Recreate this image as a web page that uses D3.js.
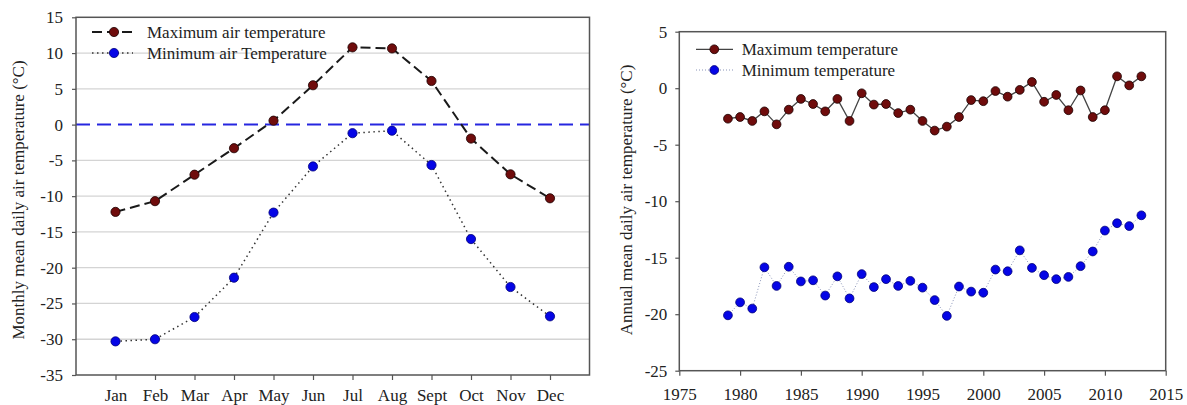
<!DOCTYPE html>
<html>
<head>
<meta charset="utf-8">
<script src="https://cdn.jsdelivr.net/npm/d3@7"></script>
<style>
  html, body { margin: 0; padding: 0; background: #fff; }
  svg { display: block; font-family: "Liberation Serif", "DejaVu Serif", serif; }
</style>
</head>
<body>
<svg id="chart" width="1187" height="405"></svg>
<script>
// monthly means (left panel)
const months = ["Jan", "Feb", "Mar", "Apr", "May", "Jun", "Jul", "Aug", "Sept", "Oct", "Nov", "Dec"]
const monthMax = [-12.2, -10.7, -7.0, -3.3, 0.55, 5.5, 10.8, 10.65, 6.1, -1.95, -6.95, -10.3]
const monthMin = [-30.3, -30.0, -26.9, -21.4, -12.3, -5.85, -1.2, -0.85, -5.65, -16.0, -22.7, -26.8]
const monthTicks = [15, 10, 5, 0, -5, -10, -15, -20, -25, -30, -35]

// annual means (right panel)
const years = d3.range(1979, 2014)
const yearMax = [-2.7, -2.55, -2.9, -2.05, -3.2, -1.9, -0.95, -1.4, -2.05, -0.95, -2.9, -0.45, -1.45, -1.4, -2.2, -1.9,
  -2.9, -3.75, -3.4, -2.55, -1.05, -1.15, -0.25, -0.75, -0.15, 0.55, -1.2, -0.6, -1.95, -0.2, -2.55, -1.95, 1.05, 0.25, 1.05]
const yearMin = [-20.1, -18.95, -19.5, -15.85, -17.5, -15.8, -17.1, -17.0, -18.35, -16.65, -18.6, -16.45, -17.6, -16.9,
  -17.5, -17.05, -17.65, -18.75, -20.15, -17.55, -18.0, -18.1, -16.05, -16.2, -14.35, -15.9, -16.55, -16.9, -16.7,
  -15.75, -14.45, -12.6, -11.95, -12.2, -11.25]
const yearTicks = [1975, 1980, 1985, 1990, 1995, 2000, 2005, 2010, 2015]
const annualTicks = [5, 0, -5, -10, -15, -20, -25]

const maxFill = "#6f0c0c", minFill = "#0505e6"
const frameColor = "#555"
const fontSize = 17

const svg = d3.select("#chart")

function frame(g, x0, x1, y0, y1) {
    g.append("rect")
        .attr("x", x0).attr("y", y0)
        .attr("width", x1 - x0).attr("height", y1 - y0)
        .attr("fill", "none")
        .attr("stroke", frameColor)
        .attr("stroke-width", 1.5)
}

function styleAxis(g) {
    g.select(".domain").remove()
    g.selectAll(".tick line").attr("stroke", frameColor).attr("stroke-width", 1.2)
    g.selectAll(".tick text")
        .attr("fill", "#222")
        .style("font-size", fontSize + "px")
        .style("font-family", "Liberation Serif, serif")
}

function markers(g, data, x, y, fill, r) {
    g.selectAll(null)
        .data(data)
        .enter()
        .append("circle")
        .attr("cx", d => x(d[0]))
        .attr("cy", d => y(d[1]))
        .attr("r", r)
        .attr("fill", fill)
        .attr("stroke", fill == maxFill ? "#1a0000" : "#00007a")
        .attr("stroke-width", 0.8)
}

// ---------- left panel ----------
{
    const g = svg.append("g")
    const x = d3.scaleLinear().domain([0, 13]).range([76, 589.5])
    const y = d3.scaleLinear().domain([-35, 15]).range([375, 17.3])

    // grid
    g.selectAll(".grid")
        .data(monthTicks.filter(d => d != 15 && d != -35 && d != 0))
        .enter()
        .append("line")
        .attr("x1", x(0)).attr("x2", x(13))
        .attr("y1", d => y(d)).attr("y2", d => y(d))
        .attr("stroke", "#d4d4d4")
        .attr("stroke-width", 1.3)

    // zero line
    g.append("line")
        .attr("x1", x(0)).attr("x2", x(13))
        .attr("y1", y(0)).attr("y2", y(0))
        .attr("stroke", "#2626e0")
        .attr("stroke-width", 2)
        .attr("stroke-dasharray", "14,7")

    const maxPts = monthMax.map((v, i) => [i + 1, v])
    const minPts = monthMin.map((v, i) => [i + 1, v])
    const line = d3.line().x(d => x(d[0])).y(d => y(d[1]))

    g.append("path").attr("d", line(maxPts))
        .attr("fill", "none").attr("stroke", "#1a1a1a")
        .attr("stroke-width", 2).attr("stroke-dasharray", "10,5")
    g.append("path").attr("d", line(minPts))
        .attr("fill", "none").attr("stroke", "#333")
        .attr("stroke-width", 1.5).attr("stroke-dasharray", "1.5,3.5")

    markers(g, maxPts, x, y, maxFill, 4.6)
    markers(g, minPts, x, y, minFill, 4.6)

    frame(g, x(0), x(13), y(15), y(-35))

    const ax = g.append("g").attr("transform", "translate(0," + y(-35) + ")")
        .call(d3.axisBottom(x).tickValues(d3.range(1, 13)).tickSize(5).tickPadding(9)
            .tickFormat(d => months[d - 1]))
    styleAxis(ax)

    const ay = g.append("g").attr("transform", "translate(" + x(0) + ",0)")
        .call(d3.axisLeft(y).tickValues(monthTicks).tickSize(4).tickPadding(9).tickFormat(d3.format("d")))
    styleAxis(ay)
    ay.selectAll(".tick text").text(d => d < 0 ? "-" + Math.abs(d) : d)

    g.append("text")
        .attr("transform", "translate(24,200) rotate(-90)")
        .attr("text-anchor", "middle")
        .style("font-size", fontSize + "px")
        .attr("fill", "#222")
        .text("Monthly mean daily air temperature (°C)")

    // legend
    const lg = g.append("g")
    const items = [
        { label: "Maximum air temperature", fill: maxFill, dash: "10,5", w: 2, c: "#1a1a1a" },
        { label: "Minimum air Temperature", fill: minFill, dash: "1.5,3.5", w: 1.5, c: "#333" }
    ]
    items.forEach((d, i) => {
        const yy = 32 + i * 21
        lg.append("line").attr("x1", 92).attr("x2", 133).attr("y1", yy).attr("y2", yy)
            .attr("stroke", d.c).attr("stroke-width", d.w).attr("stroke-dasharray", d.dash)
        markers(lg, [[0, 0]], () => 114, () => yy, d.fill, 4.6)
        lg.append("text").attr("x", 147).attr("y", yy).attr("dy", ".35em")
            .style("font-size", fontSize + "px").attr("fill", "#222").text(d.label)
    })
}

// ---------- right panel ----------
{
    const g = svg.append("g")
    const x = d3.scaleLinear().domain([1975, 2015]).range([679.3, 1165.7])
    const y = d3.scaleLinear().domain([-25, 5]).range([370.7, 31.7])

    const maxPts = years.map((yr, i) => [yr, yearMax[i]])
    const minPts = years.map((yr, i) => [yr, yearMin[i]])
    const line = d3.line().x(d => x(d[0])).y(d => y(d[1]))

    g.append("path").attr("d", line(maxPts))
        .attr("fill", "none").attr("stroke", "#444").attr("stroke-width", 1.3)
    g.append("path").attr("d", line(minPts))
        .attr("fill", "none").attr("stroke", "#8a94b8")
        .attr("stroke-width", 1).attr("stroke-dasharray", "1,2")

    markers(g, maxPts, x, y, maxFill, 4.4)
    markers(g, minPts, x, y, minFill, 4.4)

    frame(g, x(1975), x(2015), y(5), y(-25))

    const ax = g.append("g").attr("transform", "translate(0," + y(-25) + ")")
        .call(d3.axisBottom(x).tickValues(yearTicks).tickSize(5).tickPadding(12).tickFormat(d3.format("d")))
    styleAxis(ax)

    const ay = g.append("g").attr("transform", "translate(" + x(1975) + ",0)")
        .call(d3.axisLeft(y).tickValues(annualTicks).tickSize(4).tickPadding(8).tickFormat(d3.format("d")))
    styleAxis(ay)
    ay.selectAll(".tick text").text(d => d < 0 ? "-" + Math.abs(d) : d)

    g.append("text")
        .attr("transform", "translate(632,200) rotate(-90)")
        .attr("text-anchor", "middle")
        .style("font-size", fontSize + "px")
        .attr("fill", "#222")
        .text("Annual mean daily air temperature (°C)")

    const lg = g.append("g")
    const items = [
        { label: "Maximum temperature", fill: maxFill, dash: null, w: 1.3, c: "#444" },
        { label: "Minimum temperature", fill: minFill, dash: "1,2", w: 1, c: "#8a94b8" }
    ]
    items.forEach((d, i) => {
        const yy = 49.3 + i * 20.7
        lg.append("line").attr("x1", 696).attr("x2", 733).attr("y1", yy).attr("y2", yy)
            .attr("stroke", d.c).attr("stroke-width", d.w).attr("stroke-dasharray", d.dash)
        markers(lg, [[0, 0]], () => 714.3, () => yy, d.fill, 4.4)
        lg.append("text").attr("x", 741.7).attr("y", yy).attr("dy", ".35em")
            .style("font-size", fontSize + "px").attr("fill", "#222").text(d.label)
    })
}
</script>
</body>
</html>
